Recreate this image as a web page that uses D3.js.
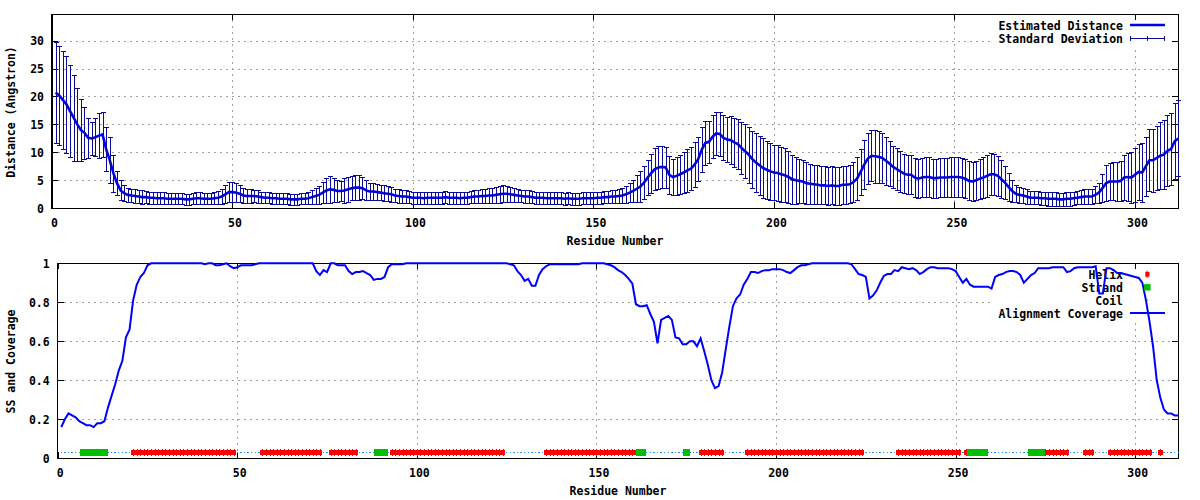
<!DOCTYPE html>
<html><head><meta charset="utf-8">
<script src="https://cdn.jsdelivr.net/npm/d3@7"></script>
<style>
body{margin:0;background:#fff}
svg text{font-family:"DejaVu Sans Mono","Liberation Mono",monospace;font-weight:bold;font-size:11.5px;fill:#000}
</style>
</head><body>
<svg id="c" width="1200" height="500"></svg>
<script>
// ---------------- data ----------------
const residues = d3.range(1, 313);
const distanceMean = [
20.7,20.2,19.4,18.6,17.4,16.2,15.0,14.0,13.5,12.6,
12.5,12.7,13.0,13.2,10.6,8.6,6.3,4.5,3.2,2.7,
2.4,2.3,2.2,2.1,2.0,2.0,1.9,1.9,1.8,1.8,
1.8,1.7,1.7,1.7,1.7,1.7,1.6,1.6,1.7,1.8,
1.8,1.7,1.7,1.7,1.8,1.9,2.1,2.5,2.9,2.9,
2.8,2.6,2.3,2.2,2.2,2.2,2.1,2.0,1.9,1.9,
1.8,1.8,1.7,1.7,1.7,1.6,1.6,1.6,1.7,1.7,
1.8,2.0,2.2,2.4,2.8,3.2,3.4,3.3,3.1,3.1,
3.2,3.4,3.6,3.7,3.7,3.6,3.2,3.0,3.0,2.9,
2.8,2.7,2.6,2.5,2.3,2.2,2.1,2.1,2.0,1.9,
1.9,1.9,1.8,1.9,1.9,1.9,1.9,1.9,2.0,1.9,
1.9,1.9,1.8,1.9,1.9,2.0,2.1,2.1,2.2,2.2,
2.3,2.3,2.4,2.5,2.6,2.6,2.5,2.4,2.3,2.2,
2.1,2.1,2.0,1.9,1.9,1.9,1.8,1.8,1.8,1.8,
1.8,1.7,1.8,1.7,1.7,1.7,1.8,1.8,1.8,1.8,
1.9,1.9,2.0,2.0,2.1,2.1,2.2,2.3,2.5,2.8,
3.1,3.5,3.9,4.6,5.5,6.3,7.0,7.3,7.4,7.3,
6.0,5.6,5.8,6.1,6.4,6.8,7.1,7.8,8.8,10.5,
11.7,11.9,12.8,13.4,13.3,12.6,12.3,12.2,11.8,11.5,
10.8,10.2,9.6,8.8,8.2,7.7,7.2,6.9,6.6,6.4,
6.3,6.1,5.9,5.6,5.2,5.0,4.9,4.8,4.5,4.4,
4.3,4.2,4.1,4.1,4.0,4.1,4.0,4.0,4.2,4.2,
4.3,4.7,5.3,6.5,7.8,8.9,9.4,9.3,9.2,9.0,
8.5,8.0,7.4,7.0,6.6,6.2,6.0,6.0,5.5,5.3,
5.5,5.6,5.6,5.4,5.4,5.5,5.5,5.5,5.6,5.6,
5.6,5.5,5.3,4.9,4.8,5.0,5.3,5.5,5.8,6.1,
6.1,5.8,5.2,4.6,3.8,3.1,2.6,2.4,2.3,2.1,
1.9,1.9,1.9,1.8,1.8,1.7,1.7,1.7,1.6,1.6,
1.7,1.7,1.8,1.9,2.0,2.1,2.1,2.1,2.4,2.8,
3.6,4.5,4.8,4.8,4.8,4.9,5.5,5.6,5.5,6.0,
6.5,6.4,7.5,8.6,8.6,9.0,9.4,9.6,10.3,10.6,
12.0,12.5];
const distanceSd = [
9.0,8.9,8.8,8.7,8.2,7.7,6.6,5.5,4.7,3.6,
3.0,3.4,4.0,4.1,4.0,4.1,3.3,2.2,1.8,1.4,
1.3,1.2,1.2,1.2,1.2,1.1,1.1,1.1,1.1,1.1,
1.1,1.0,1.0,1.0,1.0,1.0,1.0,1.0,1.0,1.1,
1.1,1.0,1.0,1.0,1.1,1.2,1.3,1.6,1.8,1.8,
1.7,1.5,1.3,1.2,1.2,1.1,1.1,1.0,1.0,1.0,
1.0,1.0,1.0,1.0,1.0,1.0,1.0,1.0,1.0,1.0,
1.1,1.2,1.4,1.6,1.9,2.3,2.4,2.2,1.9,1.8,
2.3,2.2,2.1,2.3,2.2,2.0,1.8,1.6,1.6,1.5,
1.4,1.4,1.3,1.3,1.2,1.2,1.1,1.1,1.1,1.1,
1.1,1.1,1.1,1.1,1.1,1.1,1.1,1.1,1.1,1.1,
1.1,1.1,1.1,1.1,1.1,1.1,1.1,1.1,1.2,1.2,
1.3,1.3,1.4,1.5,1.5,1.4,1.3,1.3,1.2,1.1,
1.1,1.1,1.1,1.1,1.1,1.1,1.1,1.1,1.1,1.1,
1.1,1.1,1.1,1.1,1.1,1.1,1.1,1.1,1.1,1.1,
1.1,1.1,1.1,1.1,1.2,1.2,1.3,1.3,1.5,1.7,
2.0,2.4,2.8,3.0,3.2,3.5,3.8,3.8,3.7,3.6,
3.4,3.3,3.4,3.5,3.6,3.8,3.9,4.0,4.0,4.0,
3.9,3.8,3.8,3.8,3.9,4.0,4.1,4.3,4.4,4.5,
4.6,4.8,5.0,5.1,5.3,5.3,5.3,5.2,5.1,5.0,
5.0,4.9,4.8,4.6,4.4,4.2,4.0,3.9,3.7,3.6,
3.5,3.5,3.4,3.4,3.4,3.4,3.4,3.4,3.4,3.4,
3.4,3.6,3.8,4.1,4.4,4.5,4.6,4.7,4.6,4.5,
4.3,4.0,3.8,3.7,3.6,3.5,3.5,3.5,3.5,3.5,
3.5,3.5,3.5,3.5,3.5,3.5,3.5,3.5,3.5,3.5,
3.5,3.5,3.5,3.5,3.5,3.5,3.6,3.7,3.8,3.8,
3.7,3.6,3.4,3.0,2.5,1.9,1.5,1.4,1.3,1.3,
1.2,1.2,1.2,1.2,1.2,1.2,1.2,1.2,1.2,1.2,
1.2,1.2,1.2,1.2,1.2,1.3,1.3,1.3,1.5,1.8,
2.5,3.2,3.3,3.4,3.5,3.6,4.0,4.3,4.5,4.8,
5.0,5.2,5.3,5.5,5.6,5.8,6.0,6.2,6.3,6.5,
6.8,6.8];
const coverage = [
0.16,0.20,0.23,0.22,0.21,0.19,0.18,0.17,0.17,0.16,
0.18,0.18,0.19,0.26,0.32,0.38,0.45,0.50,0.62,0.66,
0.81,0.89,0.93,0.95,0.99,1.0,1.0,1.0,1.0,1.0,
1.0,1.0,1.0,1.0,1.0,1.0,1.0,1.0,1.0,1.0,
0.995,1.0,1.0,0.99,0.99,0.995,1.0,0.985,0.975,0.98,
0.99,0.99,0.99,0.99,0.995,1.0,1.0,1.0,1.0,1.0,
1.0,1.0,1.0,1.0,1.0,1.0,1.0,1.0,1.0,1.0,
1.0,0.96,0.94,0.965,0.955,1.0,1.0,0.99,0.99,0.99,
0.96,0.945,0.955,0.955,0.96,0.95,0.94,0.915,0.92,0.92,
0.93,0.98,0.995,0.995,0.995,0.995,1.0,1.0,1.0,1.0,
1.0,1.0,1.0,1.0,1.0,1.0,1.0,1.0,1.0,1.0,
1.0,1.0,1.0,1.0,1.0,1.0,1.0,1.0,1.0,1.0,
1.0,1.0,1.0,1.0,1.0,0.995,0.99,0.96,0.94,0.91,
0.92,0.885,0.885,0.94,0.97,0.985,0.995,0.995,0.995,0.995,
0.995,0.995,0.995,0.995,0.995,1.0,1.0,1.0,1.0,1.0,
1.0,1.0,0.995,0.99,0.98,0.965,0.955,0.94,0.92,0.895,
0.79,0.78,0.78,0.785,0.74,0.70,0.59,0.71,0.72,0.73,
0.71,0.62,0.615,0.585,0.585,0.60,0.60,0.575,0.615,0.55,
0.48,0.40,0.36,0.37,0.44,0.56,0.675,0.78,0.82,0.84,
0.89,0.92,0.955,0.955,0.95,0.96,0.965,0.965,0.97,0.97,
0.97,0.965,0.955,0.95,0.965,0.98,0.99,0.99,0.995,1.0,
1.0,1.0,1.0,1.0,1.0,1.0,1.0,1.0,1.0,1.0,
0.995,0.97,0.945,0.94,0.93,0.82,0.835,0.86,0.90,0.935,
0.945,0.945,0.965,0.96,0.98,0.975,0.97,0.975,0.965,0.945,
0.955,0.97,0.98,0.98,0.975,0.975,0.975,0.975,0.97,0.96,
0.93,0.90,0.92,0.89,0.88,0.88,0.88,0.88,0.88,0.87,
0.93,0.94,0.945,0.955,0.96,0.96,0.955,0.94,0.90,0.92,
0.94,0.95,0.975,0.975,0.975,0.975,0.98,0.98,0.98,0.98,
0.955,0.96,0.975,0.98,0.98,0.98,0.98,0.98,0.985,0.845,
0.845,0.975,0.975,0.965,0.95,0.95,0.945,0.94,0.935,0.93,
0.925,0.90,0.81,0.70,0.57,0.40,0.31,0.25,0.23,0.23,
0.22,0.22];
const helixRanges = [[21,49],[57,73],[76,83],[93,124],[136,161],[179,185],[192,224],[234,251],[253,253],[275,281],[286,288],[293,304],[307,307]];
const strandRanges = [[7,13],[89,91],[162,163],[175,175],[254,258],[271,274]];
const ssLevel = 0.03;
const residueTicks = [0,50,100,150,200,250,300];
const distanceTicks = [0,5,10,15,20,25,30];
const coverageTicks = [0,0.2,0.4,0.6,0.8,1];
const topLegend = ["Estimated Distance","Standard Deviation"];
const bottomLegend = ["Helix","Strand","Coil","Alignment Coverage"];

// ---------------- drawing ----------------
const svg = d3.select("#c");
svg.append("rect").attr("width",1200).attr("height",500).attr("fill","#fff");

const GRID = "#a0a0a0";
function ssOf(r){
  if (strandRanges.some(([a,b]) => r>=a && r<=b)) return "E";
  if (helixRanges.some(([a,b]) => r>=a && r<=b)) return "H";
  return "C";
}

function panel(opts){
  const {x, y, yTicks, yFmt, keyBox} = opts;
  const [x0,x1] = x.range(), [y0,y1] = y.range();
  const g = svg.append("g");
  const grid = g.append("g").attr("stroke",GRID).attr("stroke-dasharray","2,4").attr("shape-rendering","crispEdges");
  residueTicks.filter(t => t>0).forEach(t => {
    grid.append("line").attr("x1",Math.round(x(t))+0.5).attr("x2",Math.round(x(t))+0.5).attr("y1",y1).attr("y2",y0);
  });
  yTicks.filter(t => t>0 && y(t) > y1+1).forEach(t => {
    grid.append("line").attr("y1",Math.round(y(t))+0.5).attr("y2",Math.round(y(t))+0.5).attr("x1",x0).attr("x2",x1);
  });
  g.append("rect").attr("x",keyBox[0]).attr("y",keyBox[1]).attr("width",keyBox[2]).attr("height",keyBox[3]).attr("fill","#fff");

  const ax = d3.axisBottom(x).tickValues(residueTicks).tickSize(-6).tickFormat(d3.format("d"));
  const axg = g.append("g").attr("transform",`translate(0,${y0})`).call(ax);
  axg.selectAll("text").attr("dy",null).attr("y",14.5).attr("dx",2).attr("dominant-baseline","central");
  const axt = d3.axisTop(x).tickValues(residueTicks).tickSize(-6).tickFormat("");
  g.append("g").attr("transform",`translate(0,${y1})`).call(axt);
  const ay = d3.axisLeft(y).tickValues(yTicks).tickSize(-6).tickPadding(8).tickFormat(yFmt);
  const ayg = g.append("g").attr("transform",`translate(${x0},0)`).call(ay);
  ayg.selectAll("text").attr("dy",null).attr("dominant-baseline","central");
  const ayr = d3.axisRight(y).tickValues(yTicks).tickSize(-6).tickFormat("");
  g.append("g").attr("transform",`translate(${x1},0)`).call(ayr);
  g.selectAll(".domain").remove();
  g.selectAll(".tick line").attr("stroke","#000").attr("shape-rendering","crispEdges");
  g.selectAll(".tick text").attr("font-family",null).attr("font-size",null).attr("fill","#000");
  g.append("rect").attr("x",x0).attr("y",y1).attr("width",x1-x0).attr("height",y0-y1)
    .attr("fill","none").attr("stroke","#000").attr("stroke-width",1.3).attr("shape-rendering","crispEdges");
  return g;
}

// ---------- top panel ----------
const xTop = d3.scaleLinear([0,312],[52,1178.3]);
const yTop = d3.scaleLinear([0,34.7],[208.3,14.3]);
panel({x:xTop, y:yTop, yTicks:distanceTicks, yFmt:d3.format("d"), keyBox:[993,15,178,31]});

const topData = residues.map((r,i) => ({r, m:distanceMean[i], s:distanceSd[i]}));
topLegend.forEach((t,i) => {
  svg.append("text").attr("x",1123).attr("y",26+i*13).attr("text-anchor","end").attr("dominant-baseline","central").text(t);
});
svg.append("path").datum(topData)
  .attr("d", d3.line().x(d => xTop(d.r)).y(d => yTop(d.m)))
  .attr("fill","none").attr("stroke","#0000f0").attr("stroke-width",2.6).attr("stroke-linejoin","miter");
const eb = svg.append("g").attr("stroke","#0a0a9c").attr("stroke-width",1).attr("shape-rendering","crispEdges");
topData.forEach(d => {
  const cx = Math.round(xTop(d.r))+0.5;
  const yt = yTop(d.m+d.s), yb = yTop(Math.max(0,d.m-d.s));
  eb.append("line").attr("x1",cx).attr("x2",cx).attr("y1",yt).attr("y2",yb);
  eb.append("line").attr("x1",cx-2.5).attr("x2",cx+2.5).attr("y1",Math.round(yt)+0.5).attr("y2",Math.round(yt)+0.5);
  eb.append("line").attr("x1",cx-2.5).attr("x2",cx+2.5).attr("y1",Math.round(yb)+0.5).attr("y2",Math.round(yb)+0.5);
});
svg.append("line").attr("x1",1130).attr("x2",1165).attr("y1",25).attr("y2",25).attr("stroke","#0000f0").attr("stroke-width",2.6);
const ks = svg.append("g").attr("stroke","#0a0a9c").attr("shape-rendering","crispEdges");
ks.append("line").attr("x1",1130).attr("x2",1165).attr("y1",38.5).attr("y2",38.5);
[1130.5,1147.5,1164.5].forEach(xx => ks.append("line").attr("x1",xx).attr("x2",xx).attr("y1",36).attr("y2",41));

svg.append("text").attr("x",(52+1178)/2).attr("y",241).attr("text-anchor","middle").attr("dominant-baseline","central").text("Residue Number");
svg.append("text").attr("transform","translate(11,112) rotate(-90)").attr("text-anchor","middle").attr("dominant-baseline","central").text("Distance (Angstron)");

// ---------- bottom panel ----------
const xBot = d3.scaleLinear([0,312],[57.7,1178.3]);
const yBot = d3.scaleLinear([0,1],[458.3,263.3]);
const yFmtBot = d => d===0 ? "0" : d===1 ? "1" : d3.format(".1f")(d);
panel({x:xBot, y:yBot, yTicks:coverageTicks, yFmt:yFmtBot, keyBox:[993,264,178,56]});

bottomLegend.forEach((t,i) => {
  svg.append("text").attr("x",1123).attr("y",275+i*13).attr("text-anchor","end").attr("dominant-baseline","central").text(t);
});

const ssData = residues.map(r => ({r, t:ssOf(r)}));
const ssG = svg.append("g").attr("shape-rendering","crispEdges");
const yss = yBot(ssLevel);
function helixMark(g, cx, cy){
  g.append("rect").attr("x",cx-2).attr("y",cy-2.4).attr("width",4.2).attr("height",4.8).attr("fill","#ff0000");
  g.append("rect").attr("x",Math.round(cx)-0.5).attr("y",cy-3.6).attr("width",1).attr("height",7.2).attr("fill","#ff0000");
}
function strandMark(g, cx, cy){
  g.append("rect").attr("x",cx-3.3).attr("y",cy-3.2).attr("width",6.6).attr("height",6.4).attr("fill","#00c000");
}
function coilMark(g, cx, cy){
  g.append("rect").attr("x",cx-0.7).attr("y",cy-0.7).attr("width",1.4).attr("height",1.4).attr("fill","#1e90ff");
}
ssData.filter(d => d.t==="C").forEach(d => coilMark(ssG, xBot(d.r), yss));
ssData.filter(d => d.t==="H").forEach(d => helixMark(ssG, xBot(d.r), yss));
ssData.filter(d => d.t==="E").forEach(d => strandMark(ssG, xBot(d.r), yss));

svg.append("path").datum(residues.map((r,i) => ({r, v:coverage[i]})))
  .attr("d", d3.line().x(d => xBot(d.r)).y(d => yBot(d.v)))
  .attr("fill","none").attr("stroke","#0000ff").attr("stroke-width",2);

helixMark(svg, 1147.3, 274.3);
strandMark(svg, 1147.3, 287.3);
coilMark(svg, 1147.3, 300.3);
svg.append("line").attr("x1",1130).attr("x2",1165).attr("y1",313).attr("y2",313).attr("stroke","#0000ff").attr("stroke-width",2);

svg.append("text").attr("x",(57.7+1178.3)/2).attr("y",491).attr("text-anchor","middle").attr("dominant-baseline","central").text("Residue Number");
svg.append("text").attr("transform","translate(11,361.5) rotate(-90)").attr("text-anchor","middle").attr("dominant-baseline","central").text("SS and Coverage");
</script>
</body></html>
